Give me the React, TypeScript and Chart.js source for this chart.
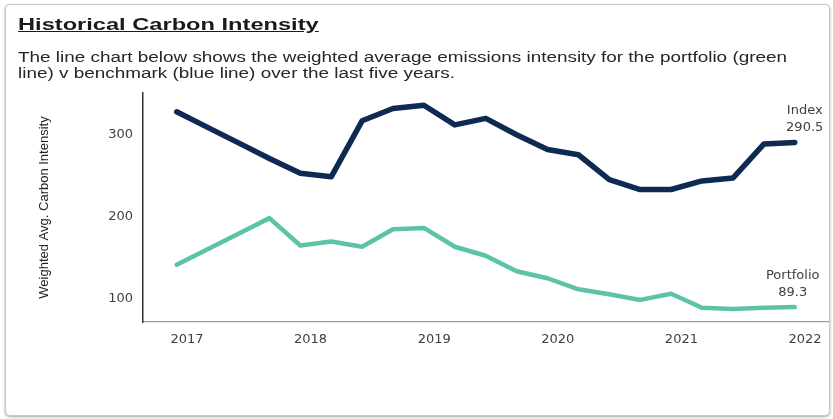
import React, { useEffect, useRef } from "react";
import { Chart, registerables } from "chart.js";

Chart.register(...registerables);

// ---- data ----
const periods = [
  "2016-12",
  "2017-03", "2017-06", "2017-09", "2017-12",
  "2018-03", "2018-06", "2018-09", "2018-12",
  "2019-03", "2019-06", "2019-09", "2019-12",
  "2020-03", "2020-06", "2020-09", "2020-12",
  "2021-03", "2021-06", "2021-09", "2021-12",
];
const indexValues = [
  328, 309, 290, 271, 253,
  248.5, 317, 332, 336,
  312, 320, 300, 282,
  275.5, 245, 233, 233,
  243.5, 247, 288.5, 290.5,
];
const portfolioValues = [
  141, 160, 179, 198, 164.5,
  169.5, 163, 184.5, 186,
  163, 152, 133, 124.5,
  111, 105, 98, 105.5,
  88.5, 87, 88.5, 89.3,
];
const seriesNames = ["Index", "Portfolio"];
const yearTicks = [2017, 2018, 2019, 2020, 2021, 2022];
const yTicks = [100, 200, 300];
const yAxisTitle = "Weighted Avg. Carbon Intensity";
const titleText = "Historical Carbon Intensity";
const subtitleLines = [
  "The line chart below shows the weighted average emissions intensity for the portfolio (green",
  "line) v benchmark (blue line) over the last five years.",
];

const NAVY = "#0f2a52";
const GREEN = "#5cc3a8";

function toYear(p: string): number {
  const [y, m] = p.split("-").map(Number);
  return y + (m - 1) / 12;
}

const endLabelPlugin = {
  id: "endLabels",
  afterDatasetsDraw(chart: any) {
    const ctx = chart.ctx;
    const offsets = [
      { dx: 10, dy1: -32, dy2: -15 },
      { dx: -2, dy1: -31, dy2: -14 },
    ];
    chart.data.datasets.forEach((ds: any, i: number) => {
      const meta = chart.getDatasetMeta(i);
      const last = meta.data[meta.data.length - 1];
      const val = ds.data[ds.data.length - 1].y;
      const o = offsets[i];
      ctx.save();
      ctx.font = "13px 'DejaVu Sans', sans-serif";
      ctx.fillStyle = "#404040";
      ctx.textAlign = "center";
      ctx.textBaseline = "middle";
      ctx.fillText(ds.label, last.x + o.dx, last.y + o.dy1);
      ctx.fillText(val.toFixed(1), last.x + o.dx, last.y + o.dy2);
      ctx.restore();
    });
  },
};

export default function App() {
  const ref = useRef<HTMLCanvasElement | null>(null);

  useEffect(() => {
    if (!ref.current) return;
    const xs = periods.map(toYear);
    const chart = new Chart(ref.current, {
      type: "line",
      data: {
        datasets: [
          {
            label: seriesNames[0],
            data: xs.map((x, i) => ({ x, y: indexValues[i] })),
            borderColor: NAVY,
            borderWidth: 5.5,
            pointRadius: 0,
            tension: 0,
            borderJoinStyle: "round",
            borderCapStyle: "round",
          },
          {
            label: seriesNames[1],
            data: xs.map((x, i) => ({ x, y: portfolioValues[i] })),
            borderColor: GREEN,
            borderWidth: 4.5,
            pointRadius: 0,
            tension: 0,
            borderJoinStyle: "round",
            borderCapStyle: "round",
          },
        ],
      },
      options: {
        responsive: false,
        animation: false,
        layout: { padding: { left: 0, right: 5, top: 93, bottom: 0 } },
        plugins: { legend: { display: false }, tooltip: { enabled: false } },
        scales: {
          x: {
            type: "linear",
            min: 2016.644,
            max: 2022.186,
            grid: { display: false, drawTicks: false },
            border: { color: "#9a9a9a", width: 1.2 },
            afterBuildTicks: (s: any) => {
              s.ticks = yearTicks.map((v) => ({ value: v }));
            },
            afterFit: (s: any) => {
              s.height = 97;
            },
            ticks: {
              padding: 10,
              color: "#404040",
              font: { family: "'DejaVu Sans', sans-serif", size: 13 },
              callback: (v: any) => String(v),
              maxRotation: 0,
            },
          },
          y: {
            min: 71,
            max: 351,
            grid: { display: false, drawTicks: false },
            border: { color: "#333333", width: 1.5 },
            afterBuildTicks: (s: any) => {
              s.ticks = yTicks.map((v) => ({ value: v }));
            },
            afterFit: (s: any) => {
              s.width = 143;
            },
            ticks: {
              padding: 10,
              color: "#404040",
              font: { family: "'DejaVu Sans', sans-serif", size: 13 },
              callback: (v: any) => String(v),
            },
            title: {
              display: true,
              text: yAxisTitle,
              color: "#222222",
              font: { family: "'Liberation Sans', Arial, sans-serif", size: 13 },
              padding: { top: 37, bottom: 0 },
            },
          },
        },
      },
      plugins: [endLabelPlugin],
    } as any);
    return () => chart.destroy();
  }, []);

  return (
    <div
      style={{
        position: "fixed",
        left: 0,
        top: 0,
        width: 833,
        height: 419,
        background: "#ffffff",
        overflow: "hidden",
      }}
    >
      <div
        style={{
          position: "absolute",
          left: 5,
          top: 4,
          width: 823,
          height: 410,
          border: "1px solid #c9c9c9",
          borderRadius: 5,
          boxShadow: "0 1px 3px rgba(0,0,0,0.35)",
          background: "#fff",
        }}
      />
      <canvas
        ref={ref}
        width={833}
        height={419}
        style={{ position: "absolute", left: 0, top: 0, width: 833, height: 419 }}
      />
      <div
        style={{
          position: "absolute",
          left: 18,
          top: 15,
          fontFamily: "'Liberation Sans', Arial, sans-serif",
          fontWeight: "bold",
          fontSize: 17,
          lineHeight: "20px",
          color: "#1a1a1a",
          textDecoration: "underline",
          whiteSpace: "nowrap",
          transform: "scaleX(1.39)",
          transformOrigin: "left top",
        }}
      >
        {titleText}
      </div>
      <div
        style={{
          position: "absolute",
          left: 18,
          top: 49,
          fontFamily: "'Liberation Sans', Arial, sans-serif",
          fontSize: 14,
          lineHeight: "16px",
          color: "#262626",
          whiteSpace: "nowrap",
          transform: "scaleX(1.35)",
          transformOrigin: "left top",
        }}
      >
        {subtitleLines[0]}
        <br />
        {subtitleLines[1]}
      </div>
    </div>
  );
}
